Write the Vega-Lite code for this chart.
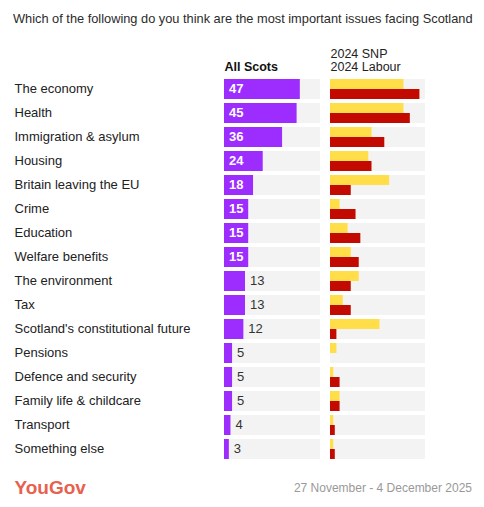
{
  "$schema": "https://vega.github.io/schema/vega-lite/v6.json",
  "padding": {"left": 13, "top": 13, "right": 12, "bottom": 8},
  "background": "white",
  "config": {"view": {"stroke": null}, "font": "Liberation Sans"},
  "title": {"text": "Which of the following do you think are the most important issues facing Scotland", "anchor": "start", "fontSize": 12.8, "fontWeight": "normal", "color": "#2b2b2b", "offset": 21, "font": "Liberation Sans", "dx": -1},
  "datasets": {
    "issues": [
      {"issue": "The economy", "all": 47, "snp": 46, "lab": 56},
      {"issue": "Health", "all": 45, "snp": 46, "lab": 50},
      {"issue": "Immigration & asylum", "all": 36, "snp": 26, "lab": 34},
      {"issue": "Housing", "all": 24, "snp": 24, "lab": 26},
      {"issue": "Britain leaving the EU", "all": 18, "snp": 37, "lab": 13},
      {"issue": "Crime", "all": 15, "snp": 6, "lab": 16},
      {"issue": "Education", "all": 15, "snp": 11, "lab": 19},
      {"issue": "Welfare benefits", "all": 15, "snp": 13, "lab": 18},
      {"issue": "The environment", "all": 13, "snp": 18, "lab": 13},
      {"issue": "Tax", "all": 13, "snp": 8, "lab": 13},
      {"issue": "Scotland's constitutional future", "all": 12, "snp": 31, "lab": 4},
      {"issue": "Pensions", "all": 5, "snp": 4, "lab": 0},
      {"issue": "Defence and security", "all": 5, "snp": 2, "lab": 6},
      {"issue": "Family life & childcare", "all": 5, "snp": 6, "lab": 6},
      {"issue": "Transport", "all": 4, "snp": 2, "lab": 3},
      {"issue": "Something else", "all": 3, "snp": 2, "lab": 3}
    ],
    "footer": [
      {"side": "right", "logo": "YouGov", "t": "27 November - 4 December 2025"}
    ]
  },
  "vconcat": [
    {
      "hconcat": [
        {
          "width": 96,
          "height": 384,
          "data": {"name": "issues"},
          "encoding": {
            "y": {"field": "issue", "type": "nominal", "sort": null,
              "scale": {"paddingInner": 0.1667, "paddingOuter": 0.0833},
              "axis": {"title": null, "orient": "left", "ticks": false, "tickSize": 0, "domain": false, "labelAlign": "left", "labelPadding": 210, "labelFontSize": 13, "labelColor": "#222", "labelLimit": 250, "labelFont": "Liberation Sans"}}
          },
          "layer": [
            {
              "mark": {"type": "bar", "color": "#f3f3f3", "cornerRadius": 0},
              "encoding": {
                "x": {"datum": 59.5, "type": "quantitative", "scale": {"domain": [0, 59.5], "nice": false},
                  "axis": {"orient": "top", "title": "All Scots", "titleFontWeight": "bold", "titleFontSize": 12.5, "titleColor": "#111", "titleAnchor": "start", "titleAlign": "left", "titlePadding": 4, "labels": false, "ticks": false, "domain": false, "grid": false, "titleFont": "Liberation Sans"}}
              }
            },
            {
              "mark": {"type": "bar", "color": "#9d2cff"},
              "encoding": {"x": {"field": "all", "type": "quantitative"}}
            },
            {
              "transform": [{"filter": "datum.all >= 15"}],
              "mark": {"type": "text", "align": "left", "baseline": "middle", "dx": 5, "color": "white", "fontWeight": "bold", "fontSize": 13},
              "encoding": {"x": {"datum": 0, "type": "quantitative"}, "text": {"field": "all"}}
            },
            {
              "transform": [{"filter": "datum.all < 15"}],
              "mark": {"type": "text", "align": "left", "baseline": "middle", "dx": 5, "color": "#333", "fontSize": 13},
              "encoding": {"x": {"field": "all", "type": "quantitative"}, "text": {"field": "all"}}
            }
          ]
        },
        {
          "width": 95,
          "height": 384,
          "data": {"name": "issues"},
          "encoding": {
            "y": {"field": "issue", "type": "nominal", "sort": null,
              "scale": {"paddingInner": 0.1667, "paddingOuter": 0.0833},
              "axis": null}
          },
          "layer": [
            {
              "mark": {"type": "bar", "color": "#f3f3f3"},
              "encoding": {
                "x": {"datum": 59.5, "type": "quantitative", "scale": {"domain": [0, 59.5], "nice": false},
                  "axis": {"orient": "top", "title": ["2024 SNP", "2024 Labour"], "titleFontWeight": "normal", "titleFontSize": 12.5, "titleLineHeight": 13, "titleColor": "#222", "titleAnchor": "start", "titleAlign": "left", "titlePadding": 4, "labels": false, "ticks": false, "domain": false, "grid": false, "titleFont": "Liberation Sans"}}
              }
            },
            {
              "transform": [{"fold": ["snp", "lab"], "as": ["party", "value"]}],
              "mark": {"type": "bar"},
              "encoding": {
                "x": {"field": "value", "type": "quantitative"},
                "yOffset": {"field": "party", "type": "nominal", "sort": ["snp", "lab"], "scale": {"paddingInner": 0, "paddingOuter": 0}},
                "color": {"field": "party", "type": "nominal", "scale": {"domain": ["snp", "lab"], "range": ["#ffde4a", "#c20a00"]}, "legend": null}
              }
            }
          ]
        }
      ],
      "spacing": 10,
      "bounds": "flush"
    },
    {
      "width": 248,
      "height": 20,
      "data": {"name": "footer"},
      "mark": {"type": "text", "align": "right", "baseline": "middle", "fontSize": 12, "color": "#999", "dy": 1},
      "encoding": {
        "y": {"field": "logo", "type": "nominal", "axis": {"title": null, "orient": "left", "ticks": false, "tickSize": 0, "domain": false, "labelAlign": "left", "labelPadding": 210, "labelFontSize": 19, "labelFontWeight": "bold", "labelColor": "#e8604e", "labelFont": "Liberation Sans"}},
        "x": {"field": "side", "type": "nominal", "scale": {"type": "point", "domain": ["left", "right"], "padding": 0}, "axis": null},
        "text": {"field": "t"}
      }
    }
  ],
  "spacing": 16
}
